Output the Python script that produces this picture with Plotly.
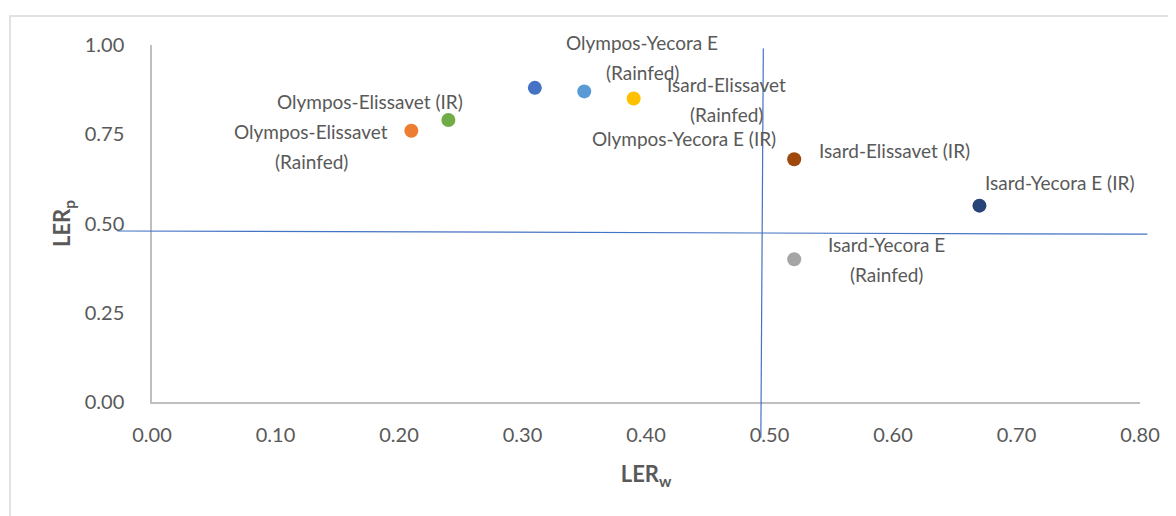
import plotly.graph_objects as go

# ---- data ----
names = [
    "Olympos-Yecora E (IR)",
    "Olympos-Elissavet (Rainfed)",
    "Isard-Yecora E (Rainfed)",
    "Isard-Elissavet (Rainfed)",
    "Olympos-Yecora E (Rainfed)",
    "Olympos-Elissavet (IR)",
    "Isard-Yecora E (IR)",
    "Isard-Elissavet (IR)",
]
ler_w = [0.31, 0.21, 0.52, 0.39, 0.35, 0.24, 0.67, 0.52]
ler_p = [0.88, 0.76, 0.40, 0.85, 0.87, 0.79, 0.55, 0.68]
colors = ["#4472C4", "#ED7D31", "#A5A5A5", "#FFC000",
          "#5B9BD5", "#70AD47", "#264478", "#9E480E"]
label_lines = [
    ["Olympos-Yecora E (IR)"],
    ["Olympos-Elissavet", "(Rainfed)"],
    ["Isard-Yecora E", "(Rainfed)"],
    ["Isard-Elissavet", "(Rainfed)"],
    ["Olympos-Yecora E", "(Rainfed)"],
    ["Olympos-Elissavet (IR)"],
    ["Isard-Yecora E (IR)"],
    ["Isard-Elissavet (IR)"],
]
x_ticks = [0.0, 0.1, 0.2, 0.3, 0.4, 0.5, 0.6, 0.7, 0.8]
y_ticks = [0.0, 0.25, 0.5, 0.75, 1.0]
# reference lines (data units)
hline_x = [-0.028, 0.806]
hline_y = [0.479, 0.470]
vline_x = [0.495, 0.493]
vline_y = [0.99, -0.10]

# ---- layout constants ----
X_RANGE = [0, 0.8]
Y_RANGE = [0, 1.0]
TXT = "#595959"
FONT = "Lato"

# label offsets in pixels (xshift, yshift of the block center, anchor)
label_pos = [
    (149, -51, "center"),
    (-100, -16, "center"),
    (92, 0, "center"),
    (93, -1, "center"),
    (58, 34, "center"),
    (-78, 18, "center"),
    (80, 23, "center"),
    (23, 9, "left"),
]
LINE_GAP = 30

fig = go.Figure()
for i in range(len(names)):
    fig.add_trace(go.Scatter(
        x=[ler_w[i]], y=[ler_p[i]], mode="markers", name=names[i],
        marker=dict(size=14, color=colors[i]), showlegend=False,
        cliponaxis=False,
    ))

annotations = []
for i in range(len(names)):
    xs, ys, anch = label_pos[i]
    lines = label_lines[i]
    n = len(lines)
    for j, ln in enumerate(lines):
        off = ((n - 1) / 2 - j) * LINE_GAP
        annotations.append(dict(
            x=ler_w[i], y=ler_p[i], xref="x", yref="y", text=ln,
            showarrow=False, xanchor=anch, yanchor="middle",
            xshift=xs, yshift=ys + off,
            font=dict(family=FONT, size=19, color=TXT),
        ))


def px(v):
    return (v - X_RANGE[0]) / (X_RANGE[1] - X_RANGE[0])


def py(v):
    return (v - Y_RANGE[0]) / (Y_RANGE[1] - Y_RANGE[0])


shapes = [
    dict(type="line", xref="paper", yref="paper",
         x0=px(hline_x[0]), y0=py(hline_y[0]), x1=px(hline_x[1]), y1=py(hline_y[1]),
         line=dict(color="#4472C4", width=1.2), layer="above"),
    dict(type="line", xref="paper", yref="paper",
         x0=px(vline_x[0]), y0=py(vline_y[0]), x1=px(vline_x[1]), y1=py(vline_y[1]),
         line=dict(color="#4472C4", width=1.2), layer="above"),
    # outer chart border
    dict(type="rect", xref="paper", yref="paper",
         x0=-0.1437, y0=1.081, x1=1.2, y1=-0.6,
         line=dict(color="#D9D9D9", width=1.5), layer="below"),
]

# the page body adds an 8px offset; compensate so the plot lands where intended
fig.update_layout(
    width=1168, height=508,
    margin=dict(l=144, r=36, t=37, b=114, autoexpand=False),
    paper_bgcolor="white", plot_bgcolor="white",
    font=dict(family=FONT, color=TXT, size=19),
    annotations=annotations, shapes=shapes,
    xaxis=dict(
        range=X_RANGE, tickvals=x_ticks, tickformat=".2f",
        showgrid=False, zeroline=False, showline=True,
        linecolor="#BFBFBF", linewidth=1.5, ticks="",
        ticklabelstandoff=14,
        tickfont=dict(family=FONT, size=20, color=TXT),
        title=dict(text="<b>LER<sub>w</sub></b>", standoff=22,
                   font=dict(family=FONT, size=22, color=TXT)),
    ),
    yaxis=dict(
        range=Y_RANGE, tickvals=y_ticks, tickformat=".2f",
        showgrid=False, zeroline=False, showline=True,
        linecolor="#BFBFBF", linewidth=1.5, ticks="",
        ticklabelstandoff=22,
        tickfont=dict(family=FONT, size=20, color=TXT),
        title=dict(text="<b>LER<sub>p</sub></b>", standoff=8,
                   font=dict(family=FONT, size=22, color=TXT)),
    ),
)

fig.write_html("out.html")
